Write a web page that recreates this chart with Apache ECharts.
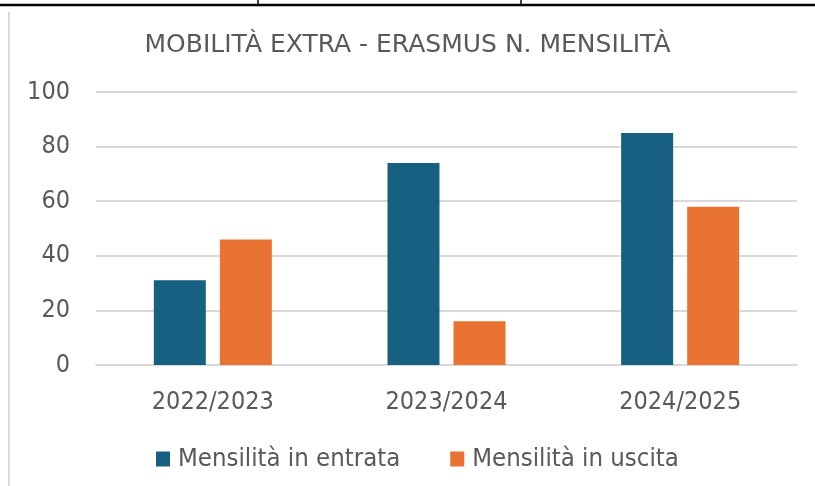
<!DOCTYPE html>
<html>
<head>
<meta charset="utf-8">
<script src="https://cdn.jsdelivr.net/npm/echarts@6/dist/echarts.min.js"></script>
<style>
  html, body { margin: 0; padding: 0; background: #fff; }
  #chart { width: 815px; height: 486px; }
</style>
</head>
<body>
<div id="chart"></div>
<script>
const years = ['2022/2023', '2023/2024', '2024/2025'];
const entrata = [31, 74, 85];
const uscita = [46, 16, 58];
const seriesNames = ['Mensilità in entrata', 'Mensilità in uscita'];

const titleFont = 'DejaVu Sans, Verdana, sans-serif';
const labelFont = 'DejaVu Sans Condensed, DejaVu Sans, Tahoma, sans-serif';
const textColor = '#595959';

const chart = echarts.init(document.getElementById('chart'));
chart.setOption({
    animation: false,
    color: ['#176082', '#e97333'],
    title: {
        text: 'MOBILITÀ EXTRA - ERASMUS N. MENSILITÀ',
        left: 'center',
        top: 28,
        textStyle: {
            fontFamily: titleFont,
            fontSize: 25,
            fontWeight: 'normal',
            color: textColor,
        },
    },
    legend: {
        top: 441,
        left: 151,
        padding: 5,
        itemWidth: 14,
        itemHeight: 15,
        itemGap: 50,
        icon: 'rect',
        textStyle: {fontFamily: labelFont, fontSize: 25.5, color: textColor, padding: [0, 0, 0, 3]},
        data: seriesNames,
    },
    grid: {
        left: 96,
        right: 18,
        top: 92,
        bottom: 121,
    },
    xAxis: {
        type: 'category',
        data: years,
        axisTick: {show: false},
        axisLine: {lineStyle: {color: '#d9d9d9', width: 2}},
        axisLabel: {fontFamily: labelFont, fontSize: 25, color: textColor, margin: 25},
    },
    yAxis: {
        type: 'value',
        min: 0,
        max: 100,
        interval: 20,
        axisLine: {show: false},
        axisTick: {show: false},
        splitLine: {lineStyle: {color: '#d9d9d9', width: 2}},
        axisLabel: {fontFamily: labelFont, fontSize: 25, color: textColor, margin: 26},
    },
    series: [
        {
            name: seriesNames[0],
            type: 'bar',
            barWidth: 52,
            barGap: '27%',
            data: entrata,
        },
        {
            name: seriesNames[1],
            type: 'bar',
            barWidth: 52,
            data: uscita,
        },
    ],
    graphic: [
        // table borders visible above the chart
        {type: 'line', shape: {x1: 0, y1: 5, x2: 815, y2: 5}, style: {stroke: '#000', lineWidth: 2.5}},
        {type: 'line', shape: {x1: 258, y1: 0, x2: 258, y2: 5}, style: {stroke: '#000', lineWidth: 1.5}},
        {type: 'line', shape: {x1: 521, y1: 0, x2: 521, y2: 5}, style: {stroke: '#000', lineWidth: 1.5}},
        {type: 'line', shape: {x1: 9, y1: 12, x2: 9, y2: 486}, style: {stroke: '#d9d9d9', lineWidth: 2}},
    ],
});
</script>
</body>
</html>
